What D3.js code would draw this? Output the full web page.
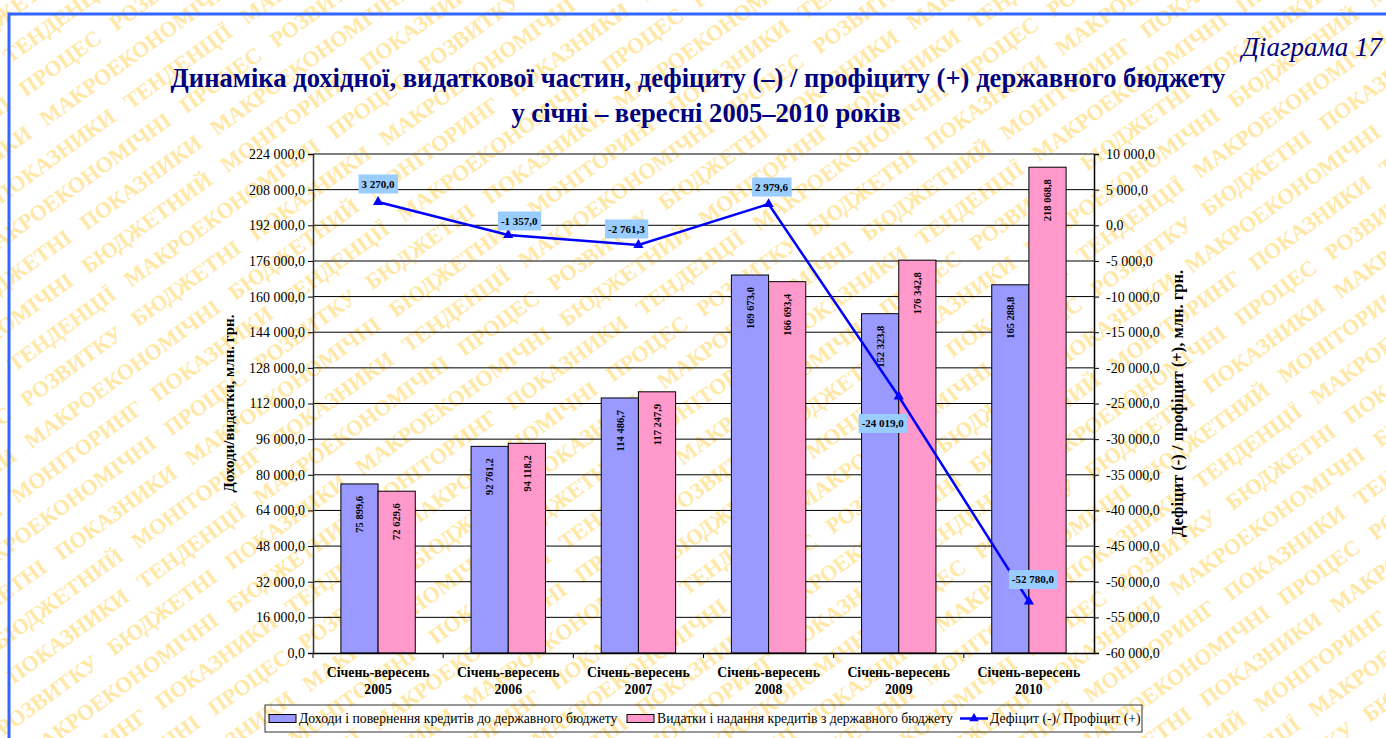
<!DOCTYPE html>
<html>
<head>
<meta charset="utf-8">
<script src="https://cdn.jsdelivr.net/npm/d3@7"></script>
<style>
  body { margin: 0; background: #fff; }
  svg { display: block; font-family: "Liberation Serif", "Times New Roman", serif; }
</style>
</head>
<body>
<svg id="chart" width="1386" height="738"></svg>
<script>
// --- data (млн. грн.) ---
const categories = ["2005", "2006", "2007", "2008", "2009", "2010"];
const revenues = [75899.6, 92761.2, 114486.7, 169673.0, 152323.8, 165288.8];
const expenditures = [72629.6, 94118.2, 117247.9, 166693.4, 176342.8, 218068.8];
const balance = [3270.0, -1357.0, -2761.3, 2979.6, -24019.0, -52780.0];

const leftTicks = [0, 16000, 32000, 48000, 64000, 80000, 96000, 112000, 128000,
                   144000, 160000, 176000, 192000, 208000, 224000];
const rightTicks = [-60000, -55000, -50000, -45000, -40000, -35000, -30000, -25000,
                    -20000, -15000, -10000, -5000, 0, 5000, 10000];

const seriesNames = ["Доходи і повернення кредитів до державного бюджету",
                     "Видатки і надання кредитів з державного бюджету",
                     "Дефіцит (-)/ Профіцит (+)"];

// label box nudges for the line labels (px, from the point)
const lineLabelShift = [[0, -18], [11, -14], [-12, -16], [3, -17], [-16, 27], [4, -22]];

const colors = {rev: "#9999FF", exp: "#FF99CC", line: "#0000FF", labelBg: "#99CCFF", navy: "#000080"};

const W = 1386, H = 738;
const plot = {left: 313, right: 1094, top: 154, bottom: 653};

const locale = d3.formatLocale({decimal: ",", thousands: "\u00a0", grouping: [3], currency: ["", ""], minus: "-"});
const fmt = locale.format(",.1f");

const svg = d3.select("#chart");

// watermark, kept inside the page
svg.append("clipPath").attr("id", "page")
    .append("rect").attr("x", 0).attr("y", 0).attr("width", W).attr("height", H);
const wmWords = ["БЮДЖЕТНИЙ", "МОНІТОРИНГ", "ПОКАЗНИКИ", "ТЕНДЕНЦІЇ", "МАКРОЕКОНОМІЧНІ",
                 "ПРОЦЕС", "РОЗВИТКУ", "БЮДЖЕТНІ", "ПОКАЗНИКИ", "МАКРОЕКОНОМІЧНІ"];
const wm = svg.append("g").attr("clip-path", "url(#page)")
    .append("g")
    .attr("transform", `rotate(-36, ${W / 2}, ${H / 2})`)
    .attr("fill", "#FFE8A6")
    .attr("font-weight", "bold")
    .attr("font-size", 22);
d3.range(-22, 23).forEach(r => {
    let words = [];
    for (let k = 0; k < 24; k++) words.push(wmWords[(r * 3 + k + 100) % wmWords.length]);
    wm.append("text")
        .attr("x", -800 + (r % 4) * 41)
        .attr("y", H / 2 + r * 36)
        .attr("xml:space", "preserve")
        .text(words.join("   "));
});

// blue frame
svg.append("rect")
    .attr("x", 9).attr("y", 14)
    .attr("width", W + 20).attr("height", H + 20)
    .attr("fill", "none")
    .attr("stroke", "#3366FF")
    .attr("stroke-width", 3);

// titles
svg.append("text")
    .attr("x", 1382).attr("y", 56)
    .attr("text-anchor", "end")
    .attr("font-style", "italic")
    .attr("font-size", 27)
    .attr("fill", colors.navy)
    .text("Діаграма 17");

svg.append("text")
    .attr("x", 698).attr("y", 87)
    .attr("text-anchor", "middle")
    .attr("font-weight", "bold")
    .attr("font-size", 26.6)
    .attr("fill", colors.navy)
    .text("Динаміка дохідної, видаткової частин, дефіциту (–) / профіциту (+) державного бюджету");

svg.append("text")
    .attr("x", 706).attr("y", 122)
    .attr("text-anchor", "middle")
    .attr("font-weight", "bold")
    .attr("font-size", 26.6)
    .attr("fill", colors.navy)
    .text("у січні – вересні 2005–2010 років");

// scales
const x0 = d3.scaleBand().domain(categories).range([plot.left, plot.right]).padding(0);
const band = x0.bandwidth();
const barW = band / 3.5;
const x1 = d3.scaleBand().domain(["rev", "exp"]).range([0.75 * barW, band - 0.75 * barW]).padding(0);
const yL = d3.scaleLinear().domain([0, 224000]).range([plot.bottom, plot.top]);
const yR = d3.scaleLinear().domain([-60000, 10000]).range([plot.bottom, plot.top]);

// grid
svg.append("g").selectAll("line")
    .data(leftTicks.filter(d => d > 0))
    .join("line")
    .attr("x1", plot.left).attr("x2", plot.right)
    .attr("y1", d => yL(d)).attr("y2", d => yL(d))
    .attr("stroke", d => (d === 224000 || d === 176000) ? "#808080" : "#000")
    .attr("stroke-width", d => (d === 224000 || d === 176000) ? 2 : 1);

// bars
const barData = categories.map((c, i) => [
    {cat: c, key: "rev", value: revenues[i]},
    {cat: c, key: "exp", value: expenditures[i]}
]).flat();

const bars = svg.append("g");
bars.selectAll("rect")
    .data(barData)
    .join("rect")
    .attr("x", d => x0(d.cat) + x1(d.key))
    .attr("y", d => yL(d.value))
    .attr("width", x1.bandwidth())
    .attr("height", d => yL(0) - yL(d.value))
    .attr("fill", d => colors[d.key])
    .attr("stroke", "#000")
    .attr("stroke-width", 1);

bars.selectAll("text")
    .data(barData)
    .join("text")
    .attr("transform", d => `translate(${x0(d.cat) + x1(d.key) + x1.bandwidth() / 2},${yL(d.value) + 12}) rotate(-90)`)
    .attr("text-anchor", "end")
    .attr("dy", "0.35em")
    .attr("font-weight", "bold")
    .attr("font-size", 10.5)
    .text(d => fmt(d.value));

// axes
const axL = svg.append("g")
    .attr("transform", `translate(${plot.left},0)`)
    .call(d3.axisLeft(yL).tickValues(leftTicks).tickFormat(fmt).tickSize(5).tickPadding(3));
const axR = svg.append("g")
    .attr("transform", `translate(${plot.right},0)`)
    .call(d3.axisRight(yR).tickValues(rightTicks).tickFormat(fmt).tickSize(5).tickPadding(7));
const axB = svg.append("g")
    .attr("transform", `translate(0,${plot.bottom})`)
    .call(d3.axisBottom(x0).tickSize(0).tickFormat(""));

[axL, axR, axB].forEach(a => {
    a.select(".domain").attr("stroke", "#000").attr("stroke-width", 1.5);
    a.selectAll(".tick line").attr("stroke", "#000");
    a.selectAll(".tick text")
        .attr("font-family", "Liberation Serif, serif")
        .attr("font-size", 14)
        .attr("fill", "#000");
});
axL.select(".domain").attr("stroke", "#333");

// category separators and labels
svg.append("g").selectAll("line")
    .data(categories)
    .join("line")
    .attr("x1", d => x0(d)).attr("x2", d => x0(d))
    .attr("y1", plot.bottom).attr("y2", plot.bottom + 5)
    .attr("stroke", "#000");

const catLabels = svg.append("g")
    .attr("font-weight", "bold")
    .attr("font-size", 13.8)
    .attr("text-anchor", "middle");
categories.forEach(c => {
    const cx = x0(c) + band / 2;
    catLabels.append("text").attr("x", cx).attr("y", 677).text("Січень-вересень");
    catLabels.append("text").attr("x", cx).attr("y", 694).text(c);
});

// axis titles
svg.append("text")
    .attr("transform", `translate(234,${(plot.top + plot.bottom) / 2}) rotate(-90)`)
    .attr("text-anchor", "middle")
    .attr("font-weight", "bold")
    .attr("font-size", 15)
    .text("Доходи/видатки,  млн. грн.");

svg.append("text")
    .attr("transform", `translate(1183,${(plot.top + plot.bottom) / 2}) rotate(-90)`)
    .attr("text-anchor", "middle")
    .attr("font-weight", "bold")
    .attr("font-size", 16.5)
    .text("Дефіцит (-) / профіцит (+),  млн. грн.");

// balance line
const linePts = categories.map((c, i) => ({cat: c, value: balance[i], shift: lineLabelShift[i]}));
const line = d3.line()
    .x(d => x0(d.cat) + band / 2)
    .y(d => yR(d.value));

svg.append("path")
    .datum(linePts)
    .attr("d", line)
    .attr("fill", "none")
    .attr("stroke", colors.line)
    .attr("stroke-width", 2.5);

svg.append("g").selectAll("path")
    .data(linePts)
    .join("path")
    .attr("transform", d => `translate(${x0(d.cat) + band / 2},${yR(d.value)})`)
    .attr("d", d3.symbol(d3.symbolTriangle, 45))
    .attr("fill", colors.line);

const lbl = svg.append("g").selectAll("g")
    .data(linePts)
    .join("g")
    .attr("transform", d => `translate(${x0(d.cat) + band / 2 + d.shift[0]},${yR(d.value) + d.shift[1]})`);
lbl.append("text")
    .attr("text-anchor", "middle")
    .attr("dy", "0.35em")
    .attr("font-weight", "bold")
    .attr("font-size", 11)
    .text(d => fmt(d.value));
lbl.each(function () {
    const g = d3.select(this);
    const bb = g.select("text").node().getBBox();
    g.insert("rect", "text")
        .attr("x", bb.x - 3).attr("y", -9.5)
        .attr("width", bb.width + 6).attr("height", 19)
        .attr("fill", colors.labelBg);
});

// legend
const leg = svg.append("g");
leg.append("rect")
    .attr("x", 265).attr("y", 705)
    .attr("width", 877).attr("height", 27)
    .attr("fill", "none")
    .attr("stroke", "#333")
    .attr("stroke-width", 1);

const legY = 718.5;
const legItems = [
    {name: seriesNames[0], type: "rev", x: 269},
    {name: seriesNames[1], type: "exp", x: 627},
    {name: seriesNames[2], type: "line", x: 960}
];
legItems.forEach(it => {
    if (it.type === "line") {
        leg.append("line")
            .attr("x1", it.x).attr("x2", it.x + 28)
            .attr("y1", legY).attr("y2", legY)
            .attr("stroke", colors.line).attr("stroke-width", 2.5);
        leg.append("path")
            .attr("transform", `translate(${it.x + 14},${legY})`)
            .attr("d", d3.symbol(d3.symbolTriangle, 40))
            .attr("fill", colors.line);
    } else {
        leg.append("rect")
            .attr("x", it.x).attr("y", legY - 4)
            .attr("width", 27).attr("height", 8)
            .attr("fill", colors[it.type])
            .attr("stroke", "#000").attr("stroke-width", 1);
    }
    leg.append("text")
        .attr("x", it.x + 30).attr("y", legY + 4.5)
        .attr("font-size", 13.7)
        .text(it.name);
});
</script>
</body>
</html>
